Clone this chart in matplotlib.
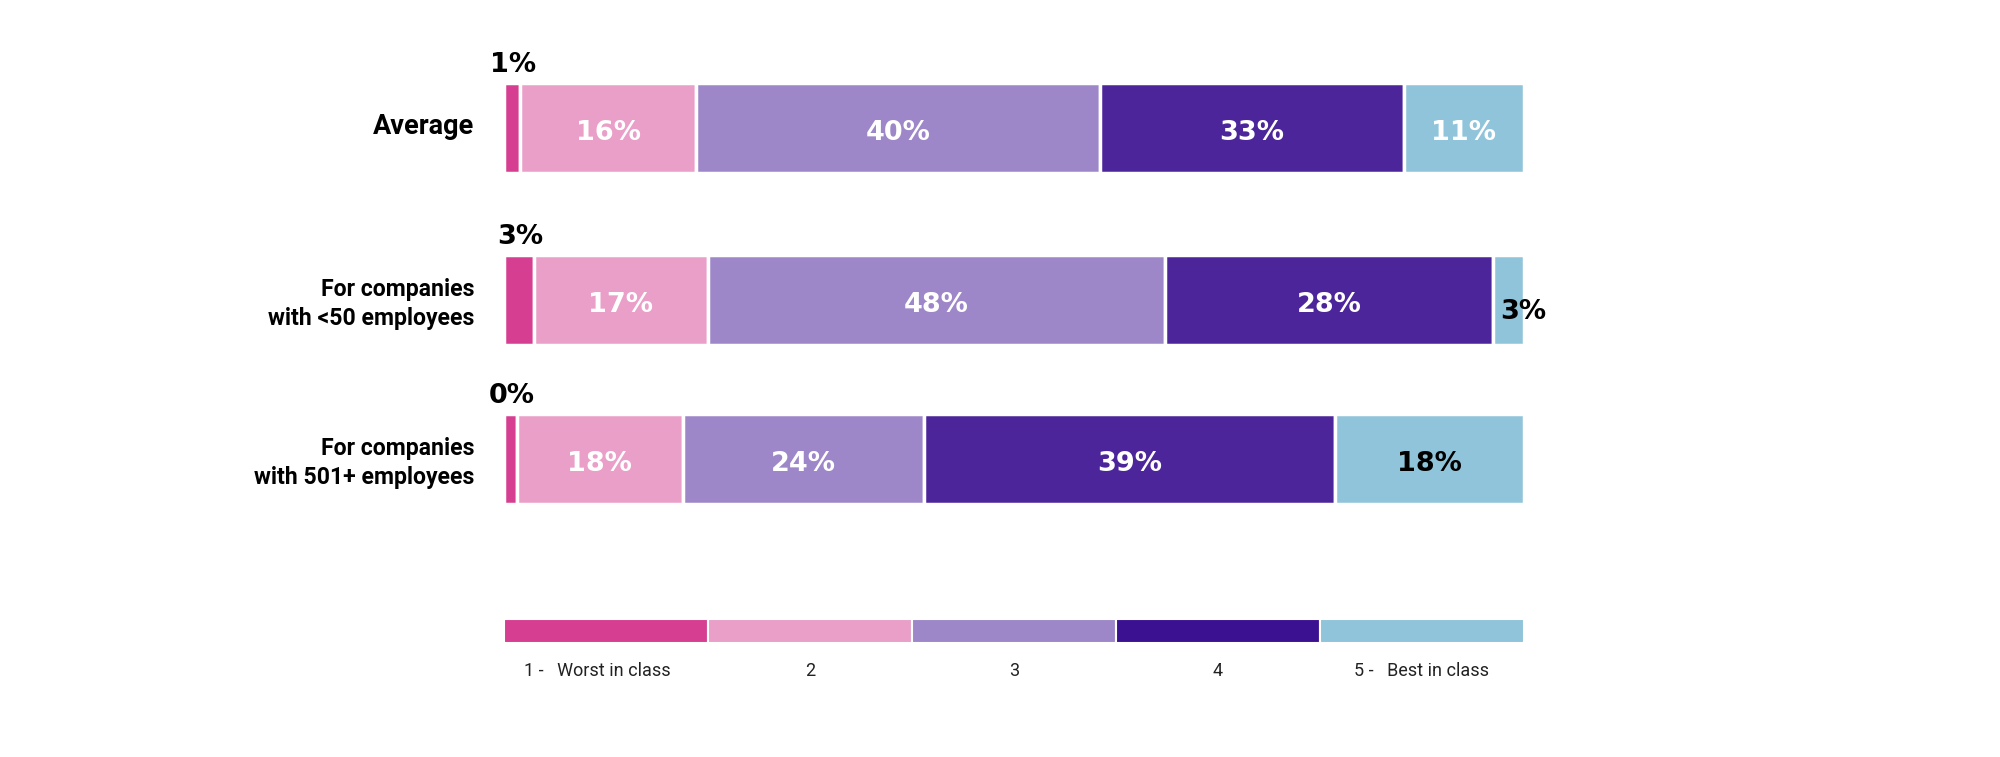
import matplotlib.pyplot as plt
import numpy as np

# groups shown as rows
groups = ["Average", "For companies\nwith <50 employees", "For companies\nwith 501+ employees"]

# segment lengths as drawn in the picture (share of the full bar)
avg_len = [1.6, 17.2, 39.6, 29.8, 11.8]
small_len = [2.9, 17.1, 44.8, 32.2, 3.0]
large_len = [1.3, 16.2, 23.7, 40.3, 18.5]

# percentages printed on the segments
avg_pct = [1, 16, 40, 33, 11]
small_pct = [3, 17, 48, 28, 3]
large_pct = [0, 18, 24, 39, 18]

ratings = ["1 -   Worst in class", "2", "3", "4", "5 -   Best in class"]

seg_colors = ['#d63e92', '#e99fc8', '#9d87c8', '#4c259b', '#8fc4da']
legend_colors = ['#d63e92', '#e99fc8', '#9d87c8', '#3c1191', '#8fc4da']

W, H = 2000, 757
fig = plt.figure(figsize=(W / 100, H / 100), dpi=100)
# axes spans the bar width, full height; y runs in pixels from the top
ax = fig.add_axes([504 / W, 0, 1020 / W, 1])
ax.set_xlim(0, 100)
ax.set_ylim(H, 0)
ax.axis('off')

row_y = [128, 300, 459]
bar_h = 89.5
pct_font = dict(family='DejaVu Sans', weight='bold', fontsize=19.5)

rows = [(avg_len, avg_pct), (small_len, small_pct), (large_len, large_pct)]
for r, (lens, pcts) in enumerate(rows):
    y = row_y[r]
    lefts = np.concatenate([[0], np.cumsum(lens)[:-1]])
    ax.barh(y, lens, left=lefts, height=bar_h, color=seg_colors,
            edgecolor='white', linewidth=2.5)

    for i in range(len(lens)):
        txt = str(pcts[i]) + "%"
        mid = lefts[i] + lens[i] / 2
        if i == 0:
            # tiny first segment: label sits above the bar
            ax.text(mid + 0.1, y - 63, txt, ha='center', va='center', color='black', **pct_font)
        elif lens[i] < 5:
            # tiny last segment: label hangs off the right end
            ax.text(lefts[i] + 0.7, y + 12, txt, ha='left', va='center', color='black', **pct_font)
        else:
            col = 'black' if (r == 2 and i == 4) else 'white'
            ax.text(mid, y + 5, txt, ha='center', va='center', color=col, **pct_font)

    # row label on the left
    if r == 0:
        ax.text(-2.9, y - 2, groups[r], ha='right', va='center', family='Roboto',
                weight='bold', fontsize=19.5, color='black')
    else:
        ax.text(-2.9, y + 4, groups[r], ha='right', va='center', family='Roboto',
                weight='bold', fontsize=16.6, color='black', linespacing=1.3)

# colour key below the bars
key_w = [100 / len(ratings)] * len(ratings)
key_left = np.arange(len(ratings)) * key_w[0]
ax.barh(631, key_w, left=key_left, height=24, color=legend_colors,
        edgecolor='white', linewidth=1.5)
for i, lab in enumerate(ratings):
    shift = -0.9 if i == 0 else 0
    ax.text(key_left[i] + key_w[i] / 2 + shift, 671, lab, ha='center', va='center',
            family='Roboto', fontsize=13, color='#222222')

fig.savefig("out.png", dpi=100, facecolor='white')
